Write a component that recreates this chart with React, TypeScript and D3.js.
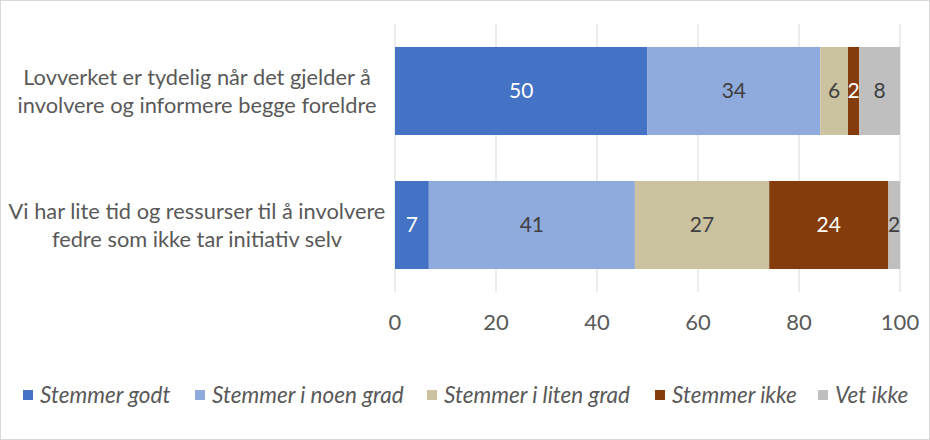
import React from "react";
import * as d3 from "d3";

const categories = [
  ["Lovverket er tydelig når det gjelder å", "involvere og informere begge foreldre"],
  ["Vi har lite tid og ressurser til å involvere", "fedre som ikke tar initiativ selv"],
];
const seriesNames = ["Stemmer godt", "Stemmer i noen grad", "Stemmer i liten grad", "Stemmer ikke", "Vet ikke"];
const seriesColors = ["#4472C4", "#8FAADC", "#CBC3A0", "#843C0C", "#BFBFBF"];
const labelColors = ["#FFFFFF", "#404040", "#404040", "#FFFFFF", "#404040"];
const row1Values = [50.0, 34.2, 5.5, 2.2, 8.1];
const row2Values = [6.7, 40.8, 26.6, 23.6, 2.3];
const xTicks = [0, 20, 40, 60, 80, 100];

const W = 930, H = 440;
const FONT = "Lato, 'Open Sans', sans-serif";

export default function App() {
  const rows = [row1Values, row2Values];
  const x = d3.scaleLinear().domain([0, 100]).range([395, 900]);
  const y = d3.scaleBand<number>().domain([0, 1]).range([24, 292]).paddingInner(0.343).paddingOuter(0.1715);
  const stacked = rows.map((vals) => {
    let acc = 0;
    return vals.map((v) => {
      const s = acc;
      acc += v;
      return [s, acc];
    });
  });
  const legendX = [23, 195, 427, 655, 818];
  return (
    <svg width={W} height={H} style={{ position: "absolute", left: 0, top: 0 }} fontFamily={FONT}>
      <rect x={0.5} y={0.5} width={W - 1} height={H - 1} fill="#fff" stroke="#D9D9D9" />
      {xTicks.map((t) => (
        <line key={t} x1={x(t)} x2={x(t)} y1={24} y2={292} stroke="#D9D9D9" strokeWidth={1} />
      ))}
      {stacked.map((segs, r) =>
        segs.map(([a, b], i) => (
          <g key={`${r}-${i}`}>
            <rect x={x(a)} y={y(r)} width={x(b) - x(a)} height={y.bandwidth()} fill={seriesColors[i]} />
            <text
              x={(x(a) + x(b)) / 2}
              y={(y(r) as number) + y.bandwidth() / 2}
              dy="0.35em"
              textAnchor="middle"
              fontSize={21}
              fill={labelColors[i]}
            >
              {Math.round(rows[r][i])}
            </text>
          </g>
        ))
      )}
      {categories.map((lines, r) => (
        <text key={r} textAnchor="middle" fontSize={21.8} fill="#595959">
          {lines.map((l, k) => (
            <tspan key={k} x={197} y={(y(r) as number) + y.bandwidth() / 2 - 14 + k * 28} dy="0.35em">
              {l}
            </tspan>
          ))}
        </text>
      ))}
      {xTicks.map((t) => (
        <text key={t} x={x(t)} y={322} dy="0.35em" textAnchor="middle" fontSize={22} fill="#595959">
          {t}
        </text>
      ))}
      {seriesNames.map((n, i) => (
        <g key={n}>
          <rect x={legendX[i]} y={390} width={10} height={10} fill={seriesColors[i]} />
          <text x={legendX[i] + 17} y={395} dy="0.35em" fontSize={22.5} fontStyle="italic" fill="#595959">
            {n}
          </text>
        </g>
      ))}
    </svg>
  );
}
